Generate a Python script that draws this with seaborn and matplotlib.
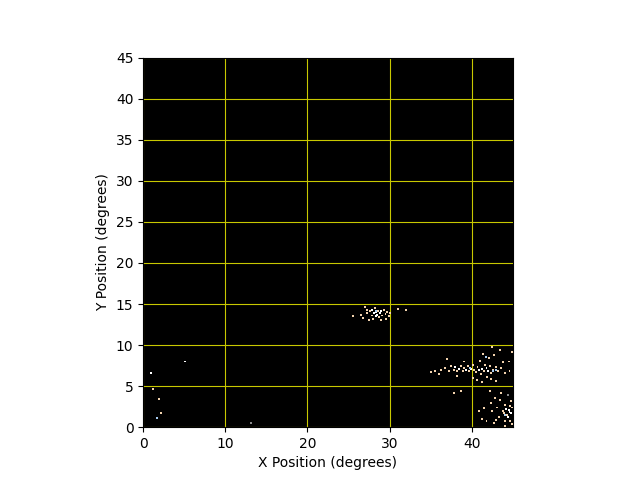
import matplotlib
matplotlib.use("Agg")
import matplotlib.pyplot as plt
import seaborn as sns
import pandas as pd

# bright detections (white)
white_x = [28.1, 28.4, 28.5, 28.8, 29.0, 28.3, 27.9, 38.5, 39.3, 39.9, 40.9, 41.3, 41.8,
           44.5, 44.6, 44.8, 44.4, 44.2, 5.1, 0.97, 42.0, 38.0]
white_y = [13.9, 14.0, 13.7, 13.9, 14.1, 13.5, 14.3, 7.1, 7.0, 7.1, 7.0, 7.1, 7.2,
           2.1, 1.8, 1.7, 1.3, 2.2, 8.0, 6.6, 6.9, 7.3]

# warm detections (peach)
warm_x = [27.0, 27.3, 27.6, 27.8, 28.0, 28.2, 28.6, 28.7, 29.1, 29.3, 29.5, 29.7, 29.9,
          30.1, 26.5, 25.6, 26.8, 27.5, 28.9, 31.0, 32.0, 29.6, 27.2,
          35.0, 35.5, 36.0, 36.3, 36.8, 37.2, 37.5, 37.8, 38.2, 38.7, 38.9, 39.1, 39.5,
          39.7, 40.1, 40.3, 40.5, 40.7, 41.1, 41.5, 41.6, 42.2, 42.4, 42.6, 42.9, 43.2,
          43.6, 44.0, 41.0, 42.1, 42.7, 43.4, 44.5, 40.6, 41.2, 42.3, 43.0, 41.9, 39.0,
          37.8, 38.7, 40.2, 43.8, 44.6, 44.9, 41.4, 42.5, 38.2, 37.0,
          40.9, 41.5, 42.4, 42.8, 43.1, 43.3, 43.5, 43.8, 44.0, 44.1, 44.3, 44.7, 44.9,
          44.9, 43.9, 42.7, 41.8, 43.6, 42.2, 44.8, 43.0, 41.3, 44.1, 42.5, 44.7,
          1.25, 1.95, 2.2]
warm_y = [14.6, 13.9, 14.1, 13.6, 13.2, 14.5, 14.2, 13.4, 13.6, 14.3, 13.8, 14.0, 13.5,
          13.9, 13.7, 13.5, 13.3, 13.0, 13.1, 14.4, 14.3, 13.2, 14.3,
          6.7, 6.9, 6.5, 7.0, 7.2, 6.8, 7.4, 7.0, 6.9, 7.5, 6.8, 7.2, 7.4,
          6.9, 7.6, 7.0, 6.7, 7.3, 6.5, 6.8, 7.6, 7.4, 6.6, 7.0, 7.3, 6.8,
          7.2, 6.6, 8.1, 8.4, 8.8, 9.4, 8.0, 5.8, 5.5, 5.9, 5.6, 6.1, 8.0,
          4.2, 4.4, 6.0, 7.9, 6.9, 9.1, 8.9, 9.8, 6.2, 8.3,
          2.0, 2.3, 3.0, 3.6, 2.4, 1.2, 3.3, 2.0, 0.7, 2.7, 1.5, 2.6, 0.4,
          2.4, 1.7, 0.5, 0.8, 4.2, 4.4, 3.2, 0.9, 1.0, 0.2, 2.0, 0.8,
          4.7, 3.4, 1.7]

# cool detections (light blue)
cool_x = [28.3, 39.8, 41.7, 42.6, 44.0, 43.0, 1.7]
cool_y = [14.2, 7.2, 8.5, 6.9, 1.5, 7.0, 1.1]

# faint detections (grey)
faint_x = [13.1, 44.4]
faint_y = [0.5, 3.9]

df = pd.concat([
    pd.DataFrame({"x": white_x, "y": white_y, "kind": "white"}),
    pd.DataFrame({"x": warm_x, "y": warm_y, "kind": "warm"}),
    pd.DataFrame({"x": cool_x, "y": cool_y, "kind": "cool"}),
    pd.DataFrame({"x": faint_x, "y": faint_y, "kind": "faint"}),
])

palette = {"white": "#ffffff", "warm": "#f2d2ad", "cool": "#a8ccf0", "faint": "#8a8a8a"}

fig, ax = plt.subplots(figsize=(6.4, 4.8), dpi=100)
ax.set_facecolor("black")

sns.scatterplot(data=df, x="x", y="y", hue="kind", palette=palette, marker="s",
                s=2, linewidth=0, legend=False, ax=ax, zorder=3)

ax.set_xlim(0, 45)
ax.set_ylim(0, 45)
ax.set_aspect("equal")
ax.set_xticks([0, 10, 20, 30, 40])
ax.set_yticks(range(0, 50, 5))
ax.grid(True, color="#c8c800", linewidth=0.8)
ax.set_xlabel("X Position (degrees)")
ax.set_ylabel("Y Position (degrees)")

plt.savefig("out.png", dpi=100)
